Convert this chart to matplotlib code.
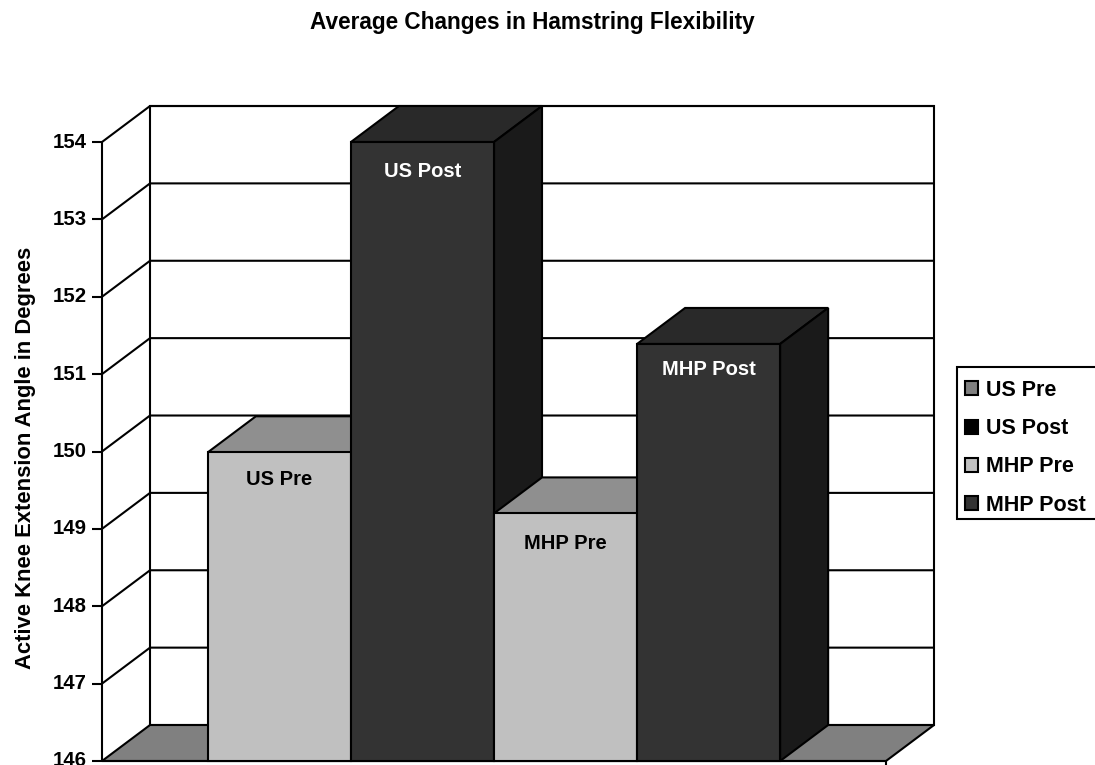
import matplotlib.pyplot as plt
from matplotlib.patches import Patch, Polygon, Rectangle

plt.rcParams["font.family"] = ["Liberation Sans", "DejaVu Sans"]
plt.rcParams["font.weight"] = "bold"

categories = ["US Pre", "US Post", "MHP Pre", "MHP Post"]
values = [149.99, 154.0, 149.2, 151.39]
label_drop = [0.35, 0.385, 0.385, 0.325]
y_ticks = [146, 147, 148, 149, 150, 151, 152, 153, 154]

front_colors = ["#c0c0c0", "#333333", "#c0c0c0", "#333333"]
top_colors = ["#8f8f8f", "#292929", "#8f8f8f", "#292929"]
side_colors = ["#606060", "#1a1a1a", "#606060", "#1a1a1a"]
text_colors = ["black", "white", "black", "white"]
legend_colors = ["#808080", "#000000", "#c0c0c0", "#333333"]

Y_MIN, Y_MAX = 146, 154
LEFT_GAP = 0.74
DX = 48 / 143  # depth offset, in bar widths
DY = 36 / 77.4  # depth offset, in degrees
LW = 1.5

fig = plt.figure(figsize=(10.95, 7.65), dpi=100)
ax = fig.add_axes([102 / 1095, 4 / 765, 784 / 1095, 619 / 765])
ax.set_xlim(-LEFT_GAP, 4 + LEFT_GAP)
ax.set_ylim(Y_MIN, Y_MAX)
ax.axis("off")

x0, x1 = ax.get_xlim()


def face(points, color, z):
    ax.add_patch(Polygon(points, closed=True, facecolor=color, edgecolor="black",
                         linewidth=LW, joinstyle="miter", clip_on=False, zorder=z))


def line(xs, ys, z=2):
    ax.plot(xs, ys, color="black", linewidth=LW, clip_on=False,
            solid_capstyle="butt", zorder=z)


# walls and floor
face([(x0 + DX, Y_MIN + DY), (x1 + DX, Y_MIN + DY), (x1 + DX, Y_MAX + DY), (x0 + DX, Y_MAX + DY)],
     "white", 1)
face([(x0, Y_MIN), (x0 + DX, Y_MIN + DY), (x1 + DX, Y_MIN + DY), (x1, Y_MIN)], "#808080", 3)

for tick in y_ticks:
    if tick > Y_MIN:
        line([x0, x0 + DX, x1 + DX], [tick, tick + DY, tick + DY])
    line([x0 - 10 / 143, x0], [tick, tick])
    ax.text(x0 - 15 / 143, tick, str(tick), ha="right", va="center", fontsize=14.7, clip_on=False)

line([x0, x0], [Y_MIN, Y_MAX], 2)
line([x0, x1], [Y_MIN, Y_MIN], 4)
line([x1, x1], [Y_MIN - 0.1, Y_MIN], 4)

# bars, painted left to right so each one hides the side of the previous
for i, value in enumerate(values):
    z = 10 + i
    face([(i, value), (i + 1, value), (i + 1 + DX, value + DY), (i + DX, value + DY)], top_colors[i], z)
    face([(i + 1, Y_MIN), (i + 1 + DX, Y_MIN + DY), (i + 1 + DX, value + DY), (i + 1, value)],
         side_colors[i], z)
    face([(i, Y_MIN), (i + 1, Y_MIN), (i + 1, value), (i, value)], front_colors[i], z)
    ax.text(i + 0.5, value - label_drop[i], categories[i], ha="center", va="center",
            color=text_colors[i], fontsize=14.5, zorder=20)

fig.text(532.5 / 1095, 1 - 29 / 765, "Average Changes in Hamstring Flexibility",
         ha="center", va="baseline", fontsize=16.3)
fig.text(26 / 1095, 1 - 458 / 765, "Active Knee Extension Angle in Degrees",
         ha="center", va="center", rotation=90, fontsize=15.8)

# legend frame runs off the right edge, so it is drawn apart from the entries
fig.add_artist(Rectangle((957 / 1095, 1 - 519 / 765), 150 / 1095, 152 / 765,
                         transform=fig.transFigure, facecolor="white", edgecolor="black",
                         linewidth=LW, zorder=5))
handles = [Patch(facecolor=c, edgecolor="black", linewidth=LW) for c in legend_colors]
fig.legend(handles, categories, loc="upper left",
           bbox_to_anchor=(965 / 1095, 1 - 380 / 765), bbox_transform=fig.transFigure,
           frameon=False, fontsize=15.5, borderaxespad=0, borderpad=0,
           handlelength=0.62, handleheight=0.62, handletextpad=0.36,
           labelspacing=0.8).set_zorder(6)

fig.savefig("out.png", dpi=100)
